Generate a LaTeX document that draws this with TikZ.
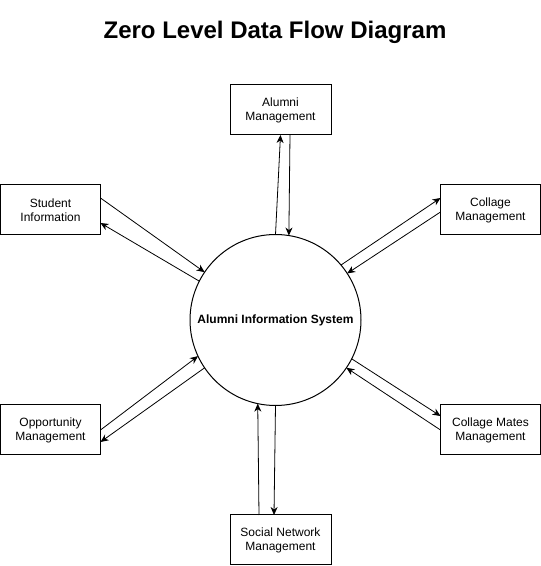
\documentclass[tikz,border=0pt]{standalone}
\usepackage{fontspec}
\setmainfont{Liberation Sans}
\usetikzlibrary{calc,arrows.meta}
\begin{document}
\begin{tikzpicture}[x=1pt,y=1pt,
  box/.style={draw,line width=1pt,minimum width=100pt,minimum height=50pt,align=center,inner sep=0pt,outer sep=0pt,font=\fontsize{12}{14}\selectfont},
  flow/.style={line width=0.8pt,-{Stealth[length=8pt,width=7pt,inset=2.5pt]}}]
\useasboundingbox (0,0) rectangle (541,566);
\node[font=\fontsize{24}{26}\selectfont\bfseries] (title) at (275,534) {Zero Level Data Flow Diagram};
\node[draw,circle,line width=1pt,minimum size=171pt,inner sep=0pt,outer sep=0pt,font=\fontsize{12}{14}\selectfont\bfseries] (sys) at (275.5,246) {Alumni Information System};
\node[box,minimum width=101pt] (alumni) at (280.5,456) {Alumni\\Management};
\node[box] (student) at (50.5,356) {Student\\Information};
\node[box] (collage) at (490.5,356) {Collage\\Management};
\node[box] (opp) at (50.5,136) {Opportunity\\Management};
\node[box] (mates) at (490.5,136) {Collage Mates\\Management};
\node[box,minimum width=101pt] (social) at (280.5,26) {Social Network\\Management};
% alumni
\draw[flow] (sys.90) -- (alumni.south);
\draw[flow] ($(alumni.south)+(9.5,0)$) -- (sys.81.6);
% student
\draw[flow] ($(student.east)+(0,12)$) -- (sys.146.5);
\draw[flow] (sys.153.9) -- ($(student.east)+(0,-13)$);
% collage
\draw[flow] (sys.40.1) -- ($(collage.west)+(0,12)$);
\draw[flow] ($(collage.west)+(0,-2)$) -- (sys.33.3);
% opportunity
\draw[flow] (opp.east) -- (sys.205.8);
\draw[flow] (sys.214) -- ($(opp.east)+(0,-12)$);
% collage mates
\draw[flow] (sys.333.3) -- ($(mates.west)+(0,14)$);
\draw[flow] (mates.west) -- (sys.326.1);
% social
\draw[flow] ($(social.north)+(-21.5,0)$) -- (sys.258.9);
\draw[flow] (sys.270) -- ($(social.north)+(-6.5,0)$);
\end{tikzpicture}
\end{document}
